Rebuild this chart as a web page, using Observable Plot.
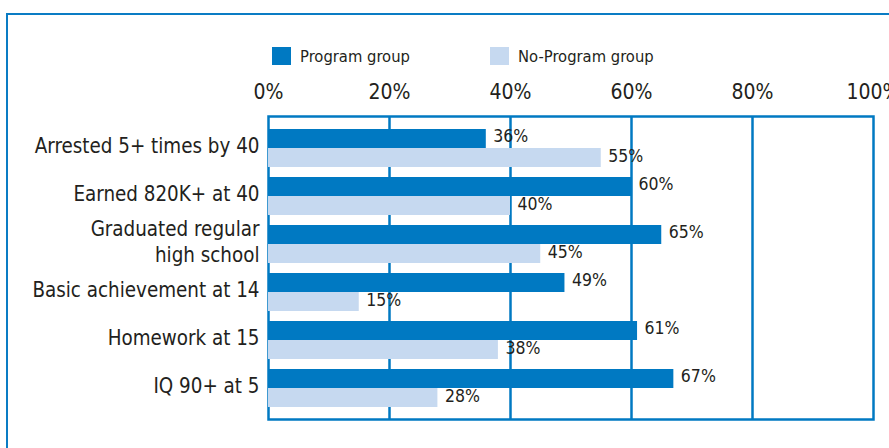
<!DOCTYPE html>
<html>
<head>
<meta charset="utf-8">
<script src="https://cdn.jsdelivr.net/npm/d3@7"></script>
<script src="https://cdn.jsdelivr.net/npm/@observablehq/plot@0.6"></script>
<style>
  html, body { margin: 0; padding: 0; background: #fff; }
  body { width: 889px; height: 448px; overflow: hidden; position: relative; color: #231f20; }
  #border { position: absolute; left: 6px; top: 13px; width: 1000px; height: 1000px;
            border-left: 2px solid #0a7cc4; border-top: 2px solid #0a7cc4; box-sizing: border-box; }
  #chart { position: absolute; left: 0; top: 0; }
  .leg { position: absolute; top: 47px; height: 18px; display: flex; align-items: center; white-space: nowrap; }
  .sw { width: 19px; height: 18px; margin-right: 9px; flex: none; }
</style>
</head>
<body>
<div id="border"></div>
<div id="chart"></div>
<div class="leg" id="leg1" style="left:272px"><div class="sw" style="background:#0079c2"></div><span>Program group</span></div>
<div class="leg" id="leg2" style="left:490px"><div class="sw" style="background:#c6d9f0"></div><span>No-Program group</span></div>
<script>
const categories = [
  "Arrested 5+ times by 40",
  "Earned 820K+ at 40",
  "Graduated regular\nhigh school",
  "Basic achievement at 14",
  "Homework at 15",
  "IQ 90+ at 5"
];
const programValues = [36, 60, 65, 49, 61, 67];
const noProgramValues = [55, 40, 45, 15, 38, 28];
const xTicks = [0, 20, 40, 60, 80, 100];
const gridTicks = [20, 40, 60, 80];

const BLUE = "#0079c2";
const LIGHT = "#c6d9f0";

// --- pick a condensed font if one is installed ---
const ctx = document.createElement("canvas").getContext("2d");
const probe = "Arrested 5+ times by 40 %";
function w(font) { ctx.font = font; return ctx.measureText(probe).width; }
let family = null, stretch = "normal";
const mono = w("40px monospace");
for (const f of ["Liberation Sans Narrow", "DejaVu Sans Condensed", "Roboto Condensed"]) {
  if (Math.abs(w(`40px "${f}", monospace`) - mono) > 0.5) { family = `"${f}"`; break; }
}
if (!family) {
  const n = w('40px "DejaVu Sans"'), c = w('condensed 40px "DejaVu Sans"');
  if (Math.abs(n - c) > 0.5) { family = '"DejaVu Sans"'; stretch = "condensed"; }
}
if (!family) family = '"Roboto"';
const fontFam = family + ', "Liberation Sans", sans-serif';
function fit(text, target, max) {
  ctx.font = `${stretch === "condensed" ? "condensed " : ""}100px ${fontFam}`;
  const width = ctx.measureText(text).width;
  return Math.min(max, 100 * target / width);
}
const catSize = fit("Arrested 5+ times by 40", 225, 25);
const tickSize = fit("20%", 42, 25);
const valSize = fit("36%", 35, 21);
const legSize = fit("Program group", 110, 20);

document.body.style.fontFamily = fontFam;
document.body.style.fontStretch = stretch;
for (const id of ["leg1", "leg2"]) document.getElementById(id).style.fontSize = legSize + "px";

const prog = categories.map((c, i) => ({category: c, value: programValues[i]}));
const noProg = categories.map((c, i) => ({category: c, value: noProgramValues[i]}));

const chart = Plot.plot({
  width: 889,
  height: 448,
  marginLeft: 268,
  marginRight: 16,
  marginTop: 116,
  marginBottom: 29,
  style: {fontFamily: fontFam, fontStretch: stretch, color: "#231f20", background: "transparent"},
  x: {domain: [0, 100]},
  y: {domain: categories, paddingInner: 0.21, paddingOuter: 0.25},
  marks: [
    Plot.ruleX(gridTicks, {stroke: BLUE, strokeWidth: 2.5}),
    Plot.frame({stroke: BLUE, strokeWidth: 2.5}),
    Plot.barX(prog, {x: "value", y: "category", fill: BLUE, insetBottom: 19}),
    Plot.barX(noProg, {x: "value", y: "category", fill: LIGHT, insetTop: 19}),
    Plot.text(prog, {x: "value", y: "category", text: d => d.value + "%", textAnchor: "start", dx: 7, dy: -12, fontSize: valSize, fill: "#231f20"}),
    Plot.text(noProg, {x: "value", y: "category", text: d => d.value + "%", textAnchor: "start", dx: 7, dy: 8, fontSize: valSize, fill: "#231f20"}),
    Plot.axisX({anchor: "top", ticks: xTicks, tickFormat: d => d + "%", tickSize: 0, tickPadding: 18, fontSize: tickSize, label: null}),
    Plot.axisY({tickSize: 0, tickPadding: 9, fontSize: catSize, lineHeight: 26 / catSize, dy: -4, label: null})
  ]
});
chart.querySelectorAll("text").forEach(t => t.style.fontStretch = stretch);
document.getElementById("chart").appendChild(chart);
</script>
</body>
</html>
